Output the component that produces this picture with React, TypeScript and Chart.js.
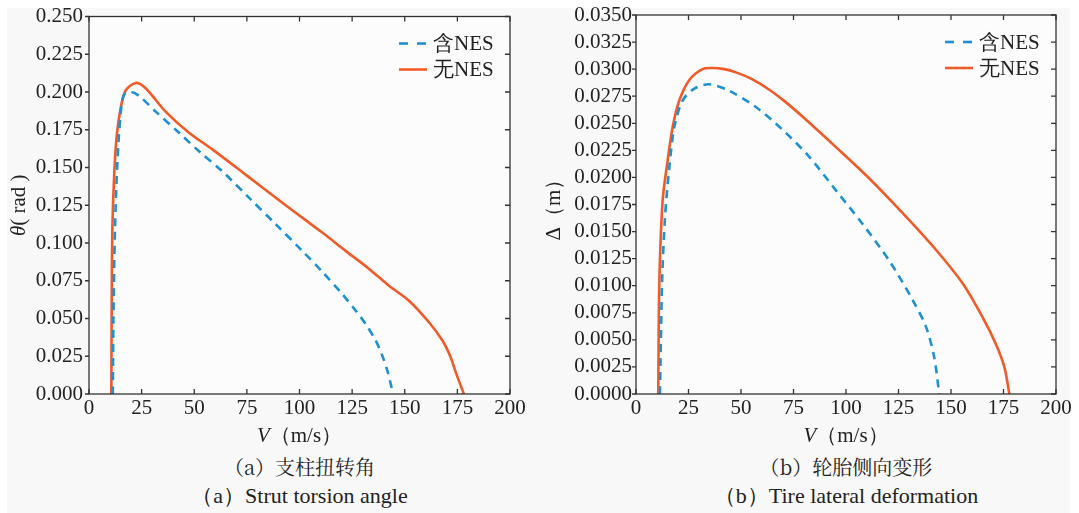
import { useEffect, useRef } from "react";
import { Chart, registerables } from "chart.js";

Chart.register(...registerables);

const FONT = "Liberation Serif";
const FONT_CJK = "Noto Serif CJK SC";
const TEXT_COLOR = "#222222";
const BLUE = "#1E90D4";
const ORANGE = "#F25A28";

const SERIES_LABELS = ["含NES", "无NES"];
const X_TICKS_MIN = 0;
const X_TICKS_MAX = 200;
const X_STEP = 25;

// Panel (a): strut torsion angle θ (rad)
const A_WITH_V = [11.3, 11.6, 12.35, 13.5, 15.0, 16.6, 19.8, 23.8, 31.7, 42.8, 52.3, 63.3, 76, 88.7, 101.3, 110.8, 120.3, 126.7, 131.4, 136.2, 139.3, 141.7, 143.3, 144.4];
const A_WITH_Y = [0, 0.05, 0.11, 0.154, 0.185, 0.198, 0.2, 0.1974, 0.187, 0.173, 0.1607, 0.1475, 0.13, 0.1124, 0.0948, 0.081, 0.0662, 0.0552, 0.0464, 0.0354, 0.0255, 0.0156, 0.0068, 0];
const A_WITHOUT_V = [10.6, 10.8, 11.1, 11.9, 13.1, 15.0, 17.4, 22.2, 26.9, 36.4, 47.5, 58.6, 74.4, 95, 110.8, 121.9, 132.5, 142.5, 152, 161.5, 167.9, 171.8, 174.2, 178.1];
const A_WITHOUT_Y = [0, 0.066, 0.11, 0.143, 0.17, 0.189, 0.201, 0.206, 0.2025, 0.187, 0.173, 0.162, 0.1453, 0.1233, 0.1069, 0.0948, 0.0835, 0.0717, 0.0618, 0.0475, 0.0354, 0.0244, 0.0145, 0];
const A_Y_MAX = 0.25;
const A_Y_STEP = 0.025;
const A_Y_DECIMALS = 3;

// Panel (b): tire lateral deformation Δ (m)
const B_WITH_V = [11.4, 12.4, 13.8, 15.9, 18.3, 22.2, 27.8, 34.9, 44.4, 57.1, 69.8, 82.5, 95.2, 107.9, 120.6, 131.7, 138.1, 142, 144.4];
const B_WITH_Y = [0, 0.0102, 0.0163, 0.021, 0.0247, 0.0271, 0.0282, 0.0286, 0.028, 0.0265, 0.0244, 0.0219, 0.0188, 0.0157, 0.0123, 0.0087, 0.0062, 0.0034, 0];
const B_WITHOUT_V = [10.6, 11.1, 12.7, 15.1, 17.5, 20.6, 25.4, 31.7, 36.5, 42, 47.6, 55, 63.5, 71, 79.4, 95.2, 111.1, 127, 142.9, 155.6, 165, 171.4, 175.4, 177.8];
const B_WITHOUT_Y = [0, 0.0102, 0.0179, 0.0216, 0.0247, 0.0271, 0.029, 0.03, 0.0301, 0.03, 0.0297, 0.0291, 0.0281, 0.027, 0.0256, 0.0228, 0.0199, 0.0167, 0.0133, 0.0102, 0.0071, 0.0046, 0.0025, 0];
const B_Y_MAX = 0.035;
const B_Y_STEP = 0.0025;
const B_Y_DECIMALS = 4;

const X_TITLE = [
  { text: "V", italic: true },
  { text: "（m/s）", italic: false },
];
const A_Y_TITLE = [
  { text: "θ", italic: true },
  { text: "( rad )", italic: false },
];
const B_Y_TITLE = [
  { text: "Δ", italic: false },
  { text: "（m）", italic: false },
];
const A_CAPTION_CN = "（a）支柱扭转角";
const A_CAPTION_EN = "（a）Strut torsion angle";
const B_CAPTION_CN = "（b）轮胎侧向变形";
const B_CAPTION_EN = "（b）Tire lateral deformation";

type Part = { text: string; italic: boolean };

function zip(xs: number[], ys: number[]) {
  return xs.map((x, i) => ({ x, y: ys[i] }));
}

function drawParts(ctx: CanvasRenderingContext2D, parts: Part[], cx: number, cy: number) {
  const fonts = parts.map((p) => `${p.italic ? "italic " : ""}21px "${FONT}"`);
  let total = 0;
  const widths = parts.map((p, i) => {
    ctx.font = fonts[i];
    const w = ctx.measureText(p.text).width;
    total += w;
    return w;
  });
  let x = cx - total / 2;
  ctx.textBaseline = "middle";
  ctx.textAlign = "left";
  ctx.fillStyle = TEXT_COLOR;
  parts.forEach((p, i) => {
    ctx.font = fonts[i];
    ctx.fillText(p.text, x, cy);
    x += widths[i];
  });
}

type PanelProps = {
  left: number;
  width: number;
  areaLeft: number;
  areaRight: number;
  withV: number[];
  withY: number[];
  withoutV: number[];
  withoutY: number[];
  yMax: number;
  yStep: number;
  decimals: number;
  yTitle: Part[];
  yTitleX: number;
  yPad: number;
  captionCn: string;
  captionEn: string;
};

const AREA_TOP = 15;
const AREA_BOTTOM = 394;
const CANVAS_H = 450;

function Panel(props: PanelProps) {
  const ref = useRef<HTMLCanvasElement | null>(null);

  useEffect(() => {
    const canvas = ref.current;
    if (!canvas) return;

    const decorPlugin = {
      id: "decor",
      beforeDatasetsDraw(chart: any) {
        const { ctx, chartArea: a } = chart;
        ctx.save();
        ctx.fillStyle = "#fcfcfc";
        ctx.fillRect(a.left, a.top, a.right - a.left, a.bottom - a.top);
        ctx.restore();
      },
      afterDatasetsDraw(chart: any) {
        const { ctx, chartArea: a, scales } = chart;
        const xs = scales.x;
        const ys = scales.y;
        ctx.save();
        ctx.strokeStyle = "#333333";
        ctx.lineWidth = 1.3;
        ctx.setLineDash([]);
        ctx.strokeRect(a.left, a.top, a.right - a.left, a.bottom - a.top);
        ctx.beginPath();
        xs.ticks.forEach((t: any) => {
          const px = xs.getPixelForValue(t.value);
          ctx.moveTo(px, a.bottom);
          ctx.lineTo(px, a.bottom - 5);
          ctx.moveTo(px, a.top);
          ctx.lineTo(px, a.top + 5);
        });
        ys.ticks.forEach((t: any) => {
          const py = ys.getPixelForValue(t.value);
          ctx.moveTo(a.left - 4, py);
          ctx.lineTo(a.left, py);
          ctx.moveTo(a.right, py);
          ctx.lineTo(a.right - 5, py);
        });
        ctx.stroke();

        // legend
        chart.data.datasets.forEach((ds: any, i: number) => {
          const ly = a.top + 27 + i * 26;
          ctx.beginPath();
          ctx.strokeStyle = ds.borderColor;
          ctx.lineWidth = ds.borderWidth;
          ctx.setLineDash(ds.borderDash && ds.borderDash.length ? [9, 9] : []);
          ctx.moveTo(a.right - 111, ly);
          ctx.lineTo(a.right - 83, ly);
          ctx.stroke();
          ctx.setLineDash([]);
          ctx.fillStyle = TEXT_COLOR;
          ctx.font = `21px "${FONT}"`;
          ctx.textAlign = "left";
          ctx.textBaseline = "middle";
          ctx.fillText(ds.label, a.right - 77, ly + 1);
        });

        // axis titles
        drawParts(ctx, X_TITLE, (a.left + a.right) / 2, 436);
        ctx.save();
        ctx.translate(props.yTitleX, (a.top + a.bottom) / 2);
        ctx.rotate(-Math.PI / 2);
        drawParts(ctx, props.yTitle, 0, 0);
        ctx.restore();
        ctx.restore();
      },
    };

    const chart = new Chart(canvas, {
      type: "line",
      data: {
        datasets: [
          {
            label: SERIES_LABELS[0],
            data: zip(props.withV, props.withY),
            borderColor: BLUE,
            backgroundColor: BLUE,
            borderWidth: 2.6,
            borderDash: [8, 6],
            pointRadius: 0,
            tension: 0.3,
            fill: false,
          },
          {
            label: SERIES_LABELS[1],
            data: zip(props.withoutV, props.withoutY),
            borderColor: ORANGE,
            backgroundColor: ORANGE,
            borderWidth: 2.6,
            pointRadius: 0,
            tension: 0.3,
            fill: false,
          },
        ],
      },
      options: {
        animation: false,
        responsive: false,
        events: [],
        layout: {
          padding: {
            left: 0,
            top: AREA_TOP,
            right: props.width - props.areaRight,
            bottom: 0,
          },
        },
        plugins: {
          legend: { display: false },
          tooltip: { enabled: false },
        },
        scales: {
          x: {
            type: "linear",
            min: X_TICKS_MIN,
            max: X_TICKS_MAX,
            grid: { display: false, drawTicks: false },
            border: { display: false },
            ticks: {
              stepSize: X_STEP,
              padding: 2,
              autoSkip: false,
              color: TEXT_COLOR,
              font: { family: `"${FONT}"`, size: 21 },
              maxRotation: 0,
            },
            afterFit: (s: any) => {
              s.height = CANVAS_H - AREA_BOTTOM;
            },
          },
          y: {
            type: "linear",
            min: 0,
            max: props.yMax,
            grid: { display: false, drawTicks: false },
            border: { display: false },
            ticks: {
              stepSize: props.yStep,
              padding: props.yPad,
              autoSkip: false,
              color: TEXT_COLOR,
              font: { family: `"${FONT}"`, size: 21, lineHeight: 1 },
              callback: (v: any) => Number(v).toFixed(props.decimals),
            },
            afterFit: (s: any) => {
              s.width = props.areaLeft;
            },
          },
        },
      },
      plugins: [decorPlugin],
    } as any);

    return () => chart.destroy();
  }, []);

  const cx = (props.areaLeft + props.areaRight) / 2;
  const capStyle = {
    position: "absolute" as const,
    left: cx - 200,
    width: 400,
    textAlign: "center" as const,
    lineHeight: "24px",
    color: TEXT_COLOR,
    whiteSpace: "nowrap" as const,
  };

  return (
    <div style={{ position: "absolute", left: props.left, top: 0, width: props.width, height: 513 }}>
      <canvas ref={ref} width={props.width} height={CANVAS_H} style={{ position: "absolute", left: 0, top: 0 }} />
      <div style={{ ...capStyle, top: 455, fontSize: 20, fontFamily: `"${FONT_CJK}"` }}>{props.captionCn}</div>
      <div style={{ ...capStyle, top: 484, fontSize: 22, fontFamily: `"${FONT}"` }}>{props.captionEn}</div>
    </div>
  );
}

export default function App() {
  return (
    <div style={{ position: "absolute", left: 0, top: 0, width: 1079, height: 513, background: "#ffffff", overflow: "hidden" }}>
      <div style={{ position: "absolute", left: 7, top: 8, width: 1063, height: 505, background: "#f8f8f8" }} />
      <Panel
        left={0}
        width={540}
        areaLeft={89}
        areaRight={510}
        withV={A_WITH_V}
        withY={A_WITH_Y}
        withoutV={A_WITHOUT_V}
        withoutY={A_WITHOUT_Y}
        yMax={A_Y_MAX}
        yStep={A_Y_STEP}
        decimals={A_Y_DECIMALS}
        yTitle={A_Y_TITLE}
        yTitleX={19}
        yPad={6}
        captionCn={A_CAPTION_CN}
        captionEn={A_CAPTION_EN}
      />
      <Panel
        left={540}
        width={539}
        areaLeft={96}
        areaRight={516}
        withV={B_WITH_V}
        withY={B_WITH_Y}
        withoutV={B_WITHOUT_V}
        withoutY={B_WITHOUT_Y}
        yMax={B_Y_MAX}
        yStep={B_Y_STEP}
        decimals={B_Y_DECIMALS}
        yTitle={B_Y_TITLE}
        yTitleX={14}
        yPad={4}
        captionCn={B_CAPTION_CN}
        captionEn={B_CAPTION_EN}
      />
    </div>
  );
}
